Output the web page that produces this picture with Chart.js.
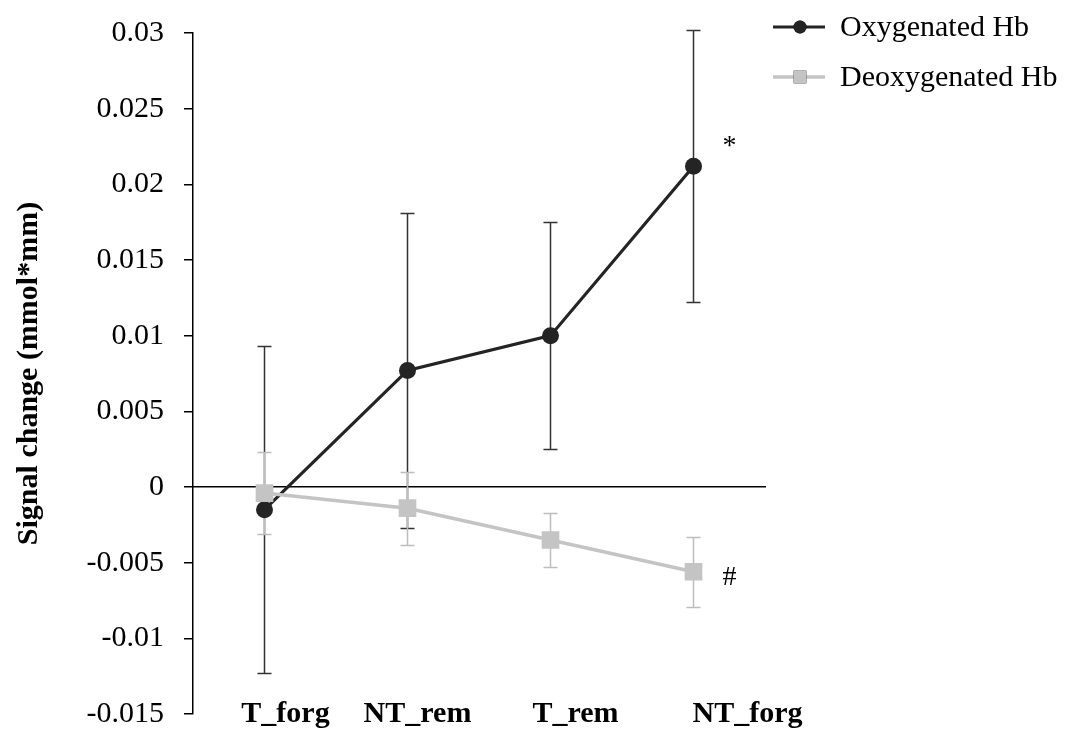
<!DOCTYPE html>
<html>
<head>
<meta charset="utf-8">
<script src="https://cdn.jsdelivr.net/npm/chart.js@4.4.1/dist/chart.umd.min.js"></script>
<style>
  html, body { margin: 0; padding: 0; background: #fff; }
  #wrap { width: 1066px; height: 731px; }
</style>
</head>
<body>
<div id="wrap"><canvas id="c" width="1066" height="731"></canvas></div>
<script>
// Conditions along the x axis
const conditions = ['T_forg', 'NT_rem', 'T_rem', 'NT_forg'];

// Mean signal change and error (half-length of the bar) per condition
const oxyMean   = [-0.0015, 0.0077, 0.0100, 0.0212];
const oxyErr    = [0.0108, 0.0104, 0.0075, 0.0090];
const deoxyMean = [-0.0004, -0.0014, -0.0035, -0.0056];
const deoxyErr  = [0.0027, 0.0024, 0.0018, 0.0023];

// Series names and significance markers beside the last point
const seriesNames = ['Oxygenated Hb', 'Deoxygenated Hb'];
const seriesMarks = ['*', '#'];

// Y axis tick values
const yTickValues = [-0.015, -0.01, -0.005, 0, 0.005, 0.01, 0.015, 0.02, 0.025, 0.03];

const SERIF = "'Liberation Serif', 'Times New Roman', serif";
const DARK = '#242424';
const LIGHT = '#c4c4c4';

// Vertical error bars with caps, drawn beneath the lines
const errorBars = {
  id: 'errorBars',
  beforeDatasetsDraw(chart) {
    const { ctx, scales: { y } } = chart;
    chart.data.datasets.forEach((ds, di) => {
      const meta = chart.getDatasetMeta(di);
      ctx.save();
      ctx.strokeStyle = ds.errorColor;
      ctx.lineWidth = 1.5;
      meta.data.forEach((pt, i) => {
        const v = ds.data[i], e = ds.errors[i];
        const top = Math.round(y.getPixelForValue(v + e)) + 0.5;
        const bot = Math.round(y.getPixelForValue(v - e)) + 0.5;
        ctx.beginPath();
        ctx.moveTo(pt.x, top); ctx.lineTo(pt.x, bot);
        ctx.moveTo(pt.x - 7, top); ctx.lineTo(pt.x + 7, top);
        ctx.moveTo(pt.x - 7, bot); ctx.lineTo(pt.x + 7, bot);
        ctx.stroke();
      });
      ctx.restore();
    });
  }
};

// Category names under the plot, significance marks and the series key
const annotations = {
  id: 'annotations',
  afterDraw(chart) {
    const { ctx, chartArea, scales: { x } } = chart;
    ctx.save();

    // category names
    const nudge = [21, 10, 25, 54];
    ctx.fillStyle = '#000';
    ctx.font = 'bold 30px ' + SERIF;
    ctx.textAlign = 'center';
    ctx.textBaseline = 'alphabetic';
    chart.data.labels.forEach((lab, i) => {
      ctx.fillText(lab, x.getPixelForValue(i) + nudge[i], chartArea.bottom + 8);
    });

    // significance marks next to the last point of each series
    ctx.textAlign = 'left';
    ctx.textBaseline = 'middle';
    ctx.font = '28px ' + SERIF;
    chart.data.datasets.forEach((ds, di) => {
      const meta = chart.getDatasetMeta(di);
      const last = meta.data[meta.data.length - 1];
      const dy = di === 0 ? -20 : 6;
      ctx.fillText(seriesMarks[di], last.x + 29, last.y + dy);
    });

    // series key
    const kx = chartArea.right + 8;
    chart.data.datasets.forEach((ds, di) => {
      const ky = 27 + di * 50;
      ctx.strokeStyle = ds.borderColor;
      ctx.lineWidth = ds.borderWidth;
      ctx.beginPath();
      ctx.moveTo(kx, ky); ctx.lineTo(kx + 52, ky);
      ctx.stroke();
      Chart.helpers.drawPoint(ctx, {
        pointStyle: ds.pointStyle,
        radius: ds.pointStyle === 'rect' ? 9 : 6.5,
        rotation: 0,
        borderWidth: 0
      }, kx + 27, ky);
      ctx.fillStyle = ds.pointBackgroundColor;
      ctx.fill();
      ctx.fillStyle = '#000';
      ctx.font = '30px ' + SERIF;
      ctx.textAlign = 'left';
      ctx.textBaseline = 'middle';
      ctx.fillText(ds.label, kx + 67, ky + 1);
    });
    ctx.restore();
  }
};

new Chart(document.getElementById('c'), {
  type: 'line',
  data: {
    labels: conditions,
    datasets: [
      {
        label: seriesNames[0],
        data: oxyMean,
        errors: oxyErr,
        errorColor: '#333333',
        borderColor: DARK,
        backgroundColor: DARK,
        pointBackgroundColor: DARK,
        pointBorderColor: DARK,
        borderWidth: 3.2,
        pointStyle: 'circle',
        pointRadius: 8.5,
        pointBorderWidth: 0,
        tension: 0,
        order: 2
      },
      {
        label: seriesNames[1],
        data: deoxyMean,
        errors: deoxyErr,
        errorColor: '#bdbdbd',
        borderColor: LIGHT,
        backgroundColor: LIGHT,
        pointBackgroundColor: LIGHT,
        pointBorderColor: LIGHT,
        borderWidth: 3.5,
        pointStyle: 'rect',
        pointRadius: 12.5,
        pointBorderWidth: 0,
        tension: 0,
        order: 1
      }
    ]
  },
  options: {
    responsive: false,
    animation: false,
    devicePixelRatio: 1,
    layout: { padding: { top: 33, right: 301, bottom: 17, left: 0 } },
    plugins: {
      legend: { display: false },
      tooltip: { enabled: false }
    },
    scales: {
      x: {
        type: 'category',
        offset: true,
        position: { y: 0 },
        afterFit(scale) { scale.height = 0; },
        grid: { display: false },
        border: { display: true, color: '#000', width: 1.5 },
        ticks: { display: false }
      },
      y: {
        min: -0.015,
        max: 0.03,
        afterBuildTicks(scale) {
          scale.ticks = yTickValues.map(v => ({ value: v }));
        },
        afterFit(scale) {
          scale.width = 193;
          scale.paddingTop = 0;
          scale.paddingBottom = 0;
        },
        grid: {
          drawOnChartArea: false,
          drawTicks: true,
          tickLength: 9,
          color: '#000',
          lineWidth: 1.5
        },
        border: { display: true, color: '#000', width: 1.5 },
        ticks: {
          padding: 20,
          color: '#000',
          font: { family: SERIF, size: 30 },
          callback: v => String(parseFloat(Number(v).toFixed(3)))
        },
        title: {
          display: true,
          text: 'Signal change (mmol*mm)',
          color: '#000',
          font: { family: SERIF, size: 30, weight: 'bold' },
          padding: { top: 11, bottom: 0 }
        }
      }
    }
  },
  plugins: [errorBars, annotations]
});
</script>
</body>
</html>
